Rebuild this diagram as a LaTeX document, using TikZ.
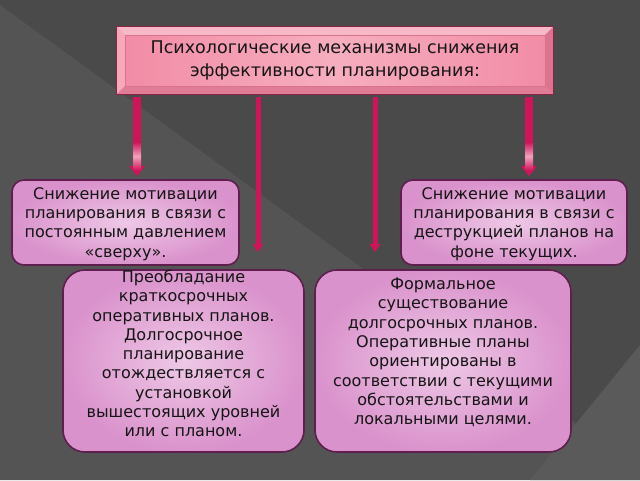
\documentclass[tikz,border=0pt]{standalone}
\usepackage{fontspec}
\setmainfont{DejaVu Sans}
\usetikzlibrary{calc,arrows.meta}
\definecolor{bgdark}{HTML}{4A4A4A}
\definecolor{bglight}{HTML}{545454}
\definecolor{bglight2}{HTML}{5A5A5A}
\definecolor{titleA}{HTML}{F28BA5}
\definecolor{titleB}{HTML}{F6AEBE}
\definecolor{bevtop}{HTML}{F7B9C7}
\definecolor{bevleft}{HTML}{F5A9BA}
\definecolor{bevright}{HTML}{DC7490}
\definecolor{bevbot}{HTML}{E07C96}
\definecolor{titleline}{HTML}{8A2444}
\definecolor{titleinner}{HTML}{D9728E}
\definecolor{arrcol}{HTML}{D0145A}
\definecolor{arrhi}{HTML}{F4A0BE}
\definecolor{boxin}{HTML}{EEC8E6}
\definecolor{boxout}{HTML}{DA92CC}
\definecolor{boxline}{HTML}{5E1E4E}
\definecolor{txt}{HTML}{151515}
\begin{document}
\begin{tikzpicture}[x=1pt,y=-1pt,
  titlebox/.style={minimum width=436pt,minimum height=67pt,inner sep=0pt,align=center,
    left color=titleA,right color=titleA,middle color=titleB,text=txt,
    font=\fontsize{17.5}{23}\selectfont},
  smallbox/.style={rounded corners=12pt,draw=boxline,line width=1.6pt,
    inner color=boxin,outer color=boxout,inner sep=0pt},
  bigbox/.style={smallbox,rounded corners=22pt},
  boxtext/.style={align=center,text=txt,inner sep=0pt,font=\fontsize{16}{19.3}\selectfont},
  arrbig/.style={draw=arrcol,line width=8pt,-{Triangle[width=15pt,length=10pt]}},
  arrsmall/.style={draw=arrcol,line width=5pt,-{Triangle[width=10pt,length=8pt]}},
  hilite/.style={top color=arrcol,bottom color=arrcol,middle color=arrhi}
]
\useasboundingbox (0,0) rectangle (640,480);
% background
\fill[bgdark] (0,0) rectangle (640,480);
\fill[bglight] (0,5) -- (640,470) -- (640,480) -- (0,480) -- cycle;
\fill[bglight2] (640,345) -- (640,480) -- (530,480) -- cycle;

% title box with bevel
\node[titlebox] (title) at (335,60.5) {Психологические механизмы снижения\\эффективности планирования:};
\fill[bevtop] (title.north west) -- (title.north east) -- ([xshift=-8pt,yshift=-8pt]title.north east) -- ([xshift=8pt,yshift=-8pt]title.north west) -- cycle;
\fill[bevleft] (title.north west) -- ([xshift=8pt,yshift=-8pt]title.north west) -- ([xshift=8pt,yshift=8pt]title.south west) -- (title.south west) -- cycle;
\fill[bevright] (title.north east) -- ([xshift=-8pt,yshift=-8pt]title.north east) -- ([xshift=-8pt,yshift=8pt]title.south east) -- (title.south east) -- cycle;
\fill[bevbot] (title.south west) -- ([xshift=8pt,yshift=8pt]title.south west) -- ([xshift=-8pt,yshift=8pt]title.south east) -- (title.south east) -- cycle;
\draw[titleinner,line width=0.4pt] ([xshift=8pt,yshift=-8pt]title.north west) rectangle ([xshift=-8pt,yshift=8pt]title.south east);
\draw[titleline,line width=1pt] (title.north west) rectangle (title.south east);

% lower boxes
\node[smallbox,minimum width=227pt,minimum height=85pt] (l1) at (125.5,222.5) {};
\node[smallbox,minimum width=226pt,minimum height=85pt] (r1) at (514,222.5) {};
\node[bigbox,minimum width=241pt,minimum height=182pt] (l2) at (183.5,361) {};
\node[bigbox,minimum width=256pt,minimum height=182pt] (r2) at (443,361) {};

\node[boxtext] (l1t) at ($(l1.center)+(0,1.5)$) {Снижение мотивации\\планирования в связи с\\постоянным давлением\\«сверху».};
\node[boxtext] (r1t) at ($(r1.center)+(0,1.5)$) {Снижение мотивации\\планирования в связи с\\деструкцией планов на\\фоне текущих.};
\node[boxtext] (l2t) at ($(l2.center)+(0,-7.5)$) {Преобладание\\краткосрочных\\оперативных планов.\\Долгосрочное\\планирование\\отождествляется с\\установкой\\вышестоящих уровней\\или с планом.};
\node[boxtext] (r2t) at ($(r2.center)+(0,-8.5)$) {Формальное\\существование\\долгосрочных планов.\\Оперативные планы\\ориентированы в\\соответствии с текущими\\обстоятельствами и\\локальными целями.};

% arrows
\coordinate (a1) at (137,0);
\coordinate (a2) at (258,0);
\coordinate (a3) at (375,0);
\coordinate (a4) at (529,0);
\draw[arrbig] ($(title.south -| a1)+(0,3)$) -- ($(l1.north -| a1)+(0,-3)$);
\draw[arrsmall] ($(title.south -| a2)+(0,3)$) -- ($(l2.north -| a2)+(0,-17)$);
\draw[arrsmall] ($(title.south -| a3)+(0,3)$) -- ($(r2.north -| a3)+(0,-17)$);
\draw[arrbig] ($(title.south -| a4)+(0,3)$) -- ($(r1.north -| a4)+(0,-3)$);
\shade[hilite] ($(title.south -| a1)+(-4,48)$) rectangle ($(title.south -| a1)+(4,76)$);
\shade[hilite] ($(title.south -| a4)+(-4,48)$) rectangle ($(title.south -| a4)+(4,76)$);
\end{tikzpicture}
\end{document}
